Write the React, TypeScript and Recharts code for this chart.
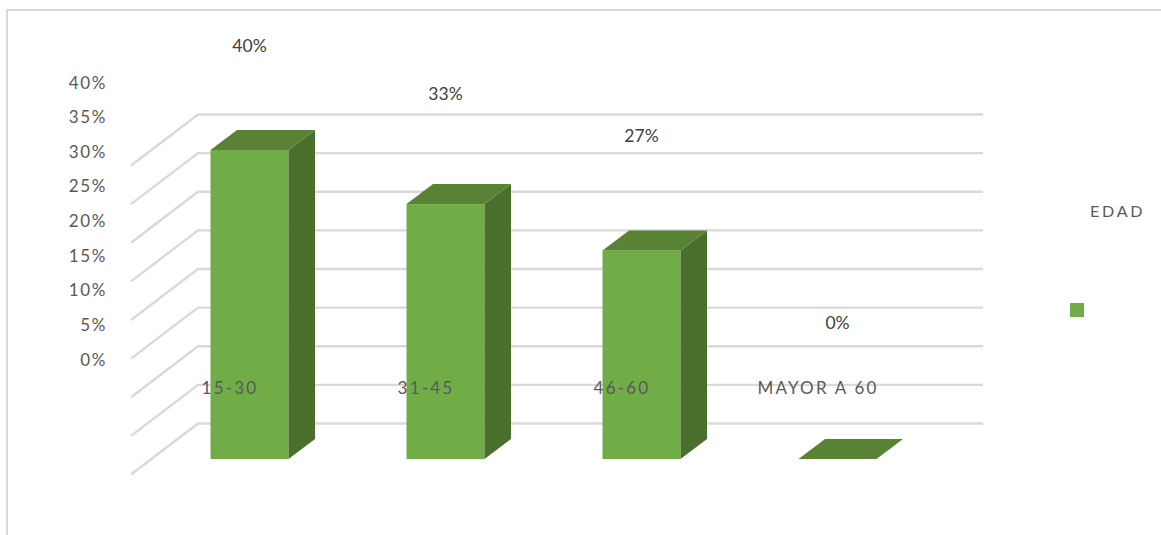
import { Bar, BarChart, CartesianGrid, LabelList, Legend, XAxis, YAxis } from 'recharts';

// Datos
const categorias = ['15-30', '31-45', '46-60', 'MAYOR A 60'];
const edad = [40, 33, 27, 0];
const marcasEje = [0, 5, 10, 15, 20, 25, 30, 35, 40];

const VERDE = '#70ad47';
const VERDE_TAPA = '#598235';
const VERDE_LADO = '#4a6e2b';
const GRIS_GRID = '#d9d9d9';

const datos = categorias.map((categoria, i) => ({ categoria, edad: edad[i] }));

// Pared lateral y fondo de la rejilla en perspectiva
const RejillaLinea = (props: any) => {
    const { y1 } = props;
    return (
        <polyline
            points={`131,${y1 + 15.5} 198,${y1 - 35.5} 983,${y1 - 35.5}`}
            fill="none"
            stroke={GRIS_GRID}
            strokeWidth={2.4}
        />
    );
};

// Columna con cara frontal, tapa y lateral
const Columna3D = (props: any) => {
    const { x, y, width, height } = props;
    const dx = 26.5;
    const dy = 20;
    return (
        <g>
            <rect x={x} y={y} width={width} height={height} fill={VERDE} />
            <polygon
                points={`${x + width},${y} ${x + width + dx},${y - dy} ${x + width + dx},${y + height - dy} ${x + width},${y + height}`}
                fill={VERDE_LADO}
            />
            <polygon
                points={`${x},${y} ${x + dx},${y - dy} ${x + width + dx},${y - dy} ${x + width},${y}`}
                fill={VERDE_TAPA}
            />
        </g>
    );
};

// Las etiquetas del eje Y van en una escala mas comprimida que las columnas
const yEtiqueta = (y: number) => 359 - (459 - y) * 0.8964;

const MarcaY = (props: any) => {
    const { y, payload } = props;
    return (
        <text
            x={107}
            y={yEtiqueta(y)}
            textAnchor="end"
            dominantBaseline="central"
            fontFamily="Lato"
            fontSize={17}
            letterSpacing={1.6}
            fill="#595959"
        >
            {`${payload.value}%`}
        </text>
    );
};

const MarcaX = (props: any) => {
    const { x, payload } = props;
    return (
        <text
            x={x - 19.5}
            y={387}
            textAnchor="middle"
            dominantBaseline="central"
            fontFamily="Lato"
            fontSize={17}
            letterSpacing={2.2}
            fill="#595959"
        >
            {payload.value}
        </text>
    );
};

const EtiquetaValor = (props: any) => {
    const { x, y, width, value } = props;
    return (
        <text
            x={x + width / 2}
            y={yEtiqueta(y) - 37}
            textAnchor="middle"
            dominantBaseline="central"
            fontFamily="Lato"
            fontSize={17.5}
            fill="#404040"
        >
            {`${value}%`}
        </text>
    );
};

const Leyenda = (props: any) => {
    const item = props.payload?.[0];
    if (!item) return null;
    return (
        <div style={{ position: 'relative', width: 0, height: 0 }}>
            <div
                style={{
                    position: 'absolute',
                    left: 1090,
                    top: 201,
                    fontFamily: 'Lato',
                    fontSize: 16,
                    letterSpacing: 2.8,
                    lineHeight: '20px',
                    color: '#595959',
                }}
            >
                {item.value}
            </div>
            <div style={{ position: 'absolute', left: 1070, top: 303, width: 14, height: 14, background: item.color }} />
        </div>
    );
};

const App = () => {
    return (
        <div style={{ position: 'absolute', left: 0, top: 0, width: 1161, height: 535, background: '#fff', overflow: 'hidden' }}>
            <div
                style={{
                    position: 'absolute',
                    left: 6,
                    top: 9,
                    right: 0,
                    bottom: 0,
                    borderLeft: `2px solid ${GRIS_GRID}`,
                    borderTop: `2px solid ${GRIS_GRID}`,
                }}
            />
            <BarChart
                width={1161}
                height={535}
                data={datos}
                barSize={78}
                margin={{ top: 150, right: 225.5, bottom: 75, left: 150.5 }}
            >
                <CartesianGrid vertical={false} horizontal={RejillaLinea} />
                <XAxis dataKey="categoria" height={1} axisLine={false} tickLine={false} interval={0} tick={MarcaX} />
                <YAxis width={1} domain={[0, 40]} ticks={marcasEje} interval={0} axisLine={false} tickLine={false} tick={MarcaY} />
                <Legend content={Leyenda} wrapperStyle={{ left: 0, top: 0, width: 0, height: 0 }} />
                <Bar dataKey="edad" name="EDAD" fill={VERDE} shape={Columna3D} isAnimationActive={false}>
                    <LabelList dataKey="edad" content={EtiquetaValor} />
                </Bar>
            </BarChart>
        </div>
    );
};

export default App;
